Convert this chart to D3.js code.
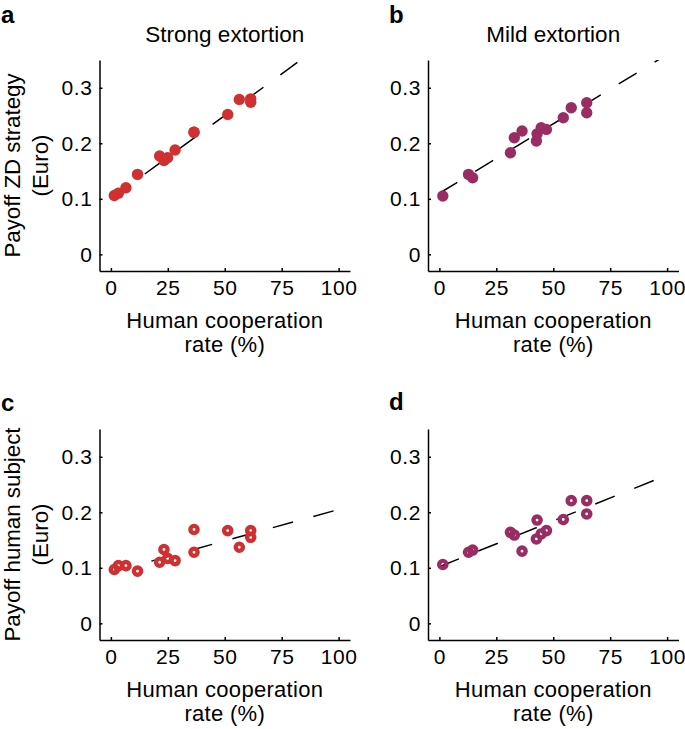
<!DOCTYPE html>
<html>
<head>
<meta charset="utf-8">
<script src="https://cdn.jsdelivr.net/npm/d3@7"></script>
<style>
  body { margin: 0; background: #fff; }
  svg { font-family: "Liberation Sans", Arial, Helvetica, sans-serif; }
</style>
</head>
<body>
<svg id="chart" width="685" height="729"></svg>
<script>
// tick labels
const xTicks = [0, 25, 50, 75, 100];
const yTicks = [0, 0.1, 0.2, 0.3];

// strong extortion: cooperation rate (%) and payoffs (Euro)
const strongCoop  = [1.5, 3.3, 6.6, 11.7, 21.4, 23.3, 24.9, 28.2, 36.5, 36.5, 51.3, 56.4, 61.4, 61.4];
const strongZD    = [0.106, 0.110, 0.120, 0.144, 0.177, 0.169, 0.174, 0.188, 0.220, 0.220, 0.252, 0.279, 0.280, 0.274];
const strongHuman = [0.097, 0.104, 0.104, 0.094, 0.110, 0.133, 0.117, 0.113, 0.128, 0.169, 0.167, 0.137, 0.167, 0.155];

// mild extortion
const mildCoop  = [1.5, 12.8, 14.6, 31.2, 32.9, 36.3, 42.6, 42.9, 44.7, 47.0, 54.4, 57.9, 64.7, 64.7];
const mildZD    = [0.105, 0.144, 0.138, 0.183, 0.210, 0.222, 0.204, 0.217, 0.228, 0.225, 0.246, 0.264, 0.273, 0.255];
const mildHuman = [0.106, 0.128, 0.132, 0.164, 0.159, 0.130, 0.152, 0.186, 0.161, 0.167, 0.187, 0.221, 0.221, 0.197];

// fitted lines, value at x = 0 and x = 100
const fitX = [0, 100];
const strongZDFit    = [0.100, 0.400];
const mildZDFit      = [0.110, 0.360];
const strongHumanFit = [0.092, 0.205];
const mildHumanFit   = [0.102, 0.267];

const red = "#d0302f";
const purple = "#9a2c64";

const W = 250.5, H = 211;

const panels = [
  { letter: "a", lx: 0, ly: 22.5, title: "Strong extortion", ylab: ["Payoff ZD strategy", "(Euro)"],
    xs: strongCoop, ys: strongZD, fit: strongZDFit, color: red, hollow: false, left: 99.5, top: 60 },
  { letter: "b", lx: 388, ly: 22.5, title: "Mild extortion", ylab: null,
    xs: mildCoop, ys: mildZD, fit: mildZDFit, color: purple, hollow: false, left: 428, top: 60 },
  { letter: "c", lx: 0, ly: 411, title: null, ylab: ["Payoff human subject", "(Euro)"],
    xs: strongCoop, ys: strongHuman, fit: strongHumanFit, color: red, hollow: true, left: 99.5, top: 429 },
  { letter: "d", lx: 388, ly: 410, title: null, ylab: null,
    xs: mildCoop, ys: mildHuman, fit: mildHumanFit, color: purple, hollow: true, left: 428, top: 429 }
];

const svg = d3.select("#chart");

panels.forEach(function(p, i) {
  const x = d3.scaleLinear().domain([-5, 105]).range([0, W]);
  const y = d3.scaleLinear().domain([-0.03, 0.35]).range([H, 0]);

  // panel letter
  svg.append("text")
    .attr("x", p.lx + 1).attr("y", p.ly)
    .attr("font-size", 24).attr("font-weight", "bold")
    .text(p.letter);

  const g = svg.append("g").attr("transform", `translate(${p.left},${p.top})`);

  if (p.title) {
    g.append("text")
      .attr("x", W / 2).attr("y", 41.5 - p.top)
      .attr("text-anchor", "middle").attr("font-size", 22.5)
      .text(p.title);
  }

  g.append("clipPath").attr("id", "clip" + i)
    .append("rect").attr("width", W).attr("height", H);

  // dashed fit line
  const line = d3.line().x(d => x(d[0])).y(d => y(d[1]));
  g.append("path")
    .datum(fitX.map((v, j) => [v, p.fit[j]]))
    .attr("clip-path", `url(#clip${i})`)
    .attr("d", line)
    .attr("fill", "none").attr("stroke", "#000")
    .attr("stroke-width", 1.5).attr("stroke-dasharray", "21,21");

  // points
  const pts = g.append("g").selectAll("circle")
    .data(p.xs.map((v, j) => [v, p.ys[j]]))
    .join("circle")
    .attr("cx", d => x(d[0])).attr("cy", d => y(d[1]));
  if (p.hollow) {
    pts.attr("r", 3.6).attr("fill", "none")
      .attr("stroke", p.color).attr("stroke-width", 4.4);
  } else {
    pts.attr("r", 5.7).attr("fill", p.color);
  }

  // axes, ticks point inwards
  const xAxis = g.append("g").attr("transform", `translate(0,${H})`)
    .call(d3.axisBottom(x).tickValues(xTicks).tickSizeInner(-3).tickSizeOuter(0).tickPadding(9.5));
  const yAxis = g.append("g")
    .call(d3.axisLeft(y).tickValues(yTicks).tickSizeInner(-3).tickSizeOuter(0).tickPadding(7)
      .tickFormat(d => d === 0 ? "0" : d3.format(".1f")(d)));

  [xAxis, yAxis].forEach(function(ax) {
    ax.attr("font-family", null).attr("font-size", null);
    ax.selectAll("path, line").attr("stroke", "#000").attr("stroke-width", 1.5);
    ax.selectAll("text").attr("font-size", 21).attr("letter-spacing", 0.6).attr("fill", "#000");
  });

  // x label, two lines
  g.append("text")
    .attr("x", W / 2).attr("y", H + 56.5)
    .attr("text-anchor", "middle").attr("font-size", 22)
    .attr("letter-spacing", 0.3)
    .text("Human cooperation");
  g.append("text")
    .attr("x", W / 2).attr("y", H + 81.2)
    .attr("text-anchor", "middle").attr("font-size", 22)
    .attr("letter-spacing", 0.3)
    .text("rate (%)");

  // y label
  if (p.ylab) {
    const cy = p.top + H / 2;
    [19.5, 48].forEach(function(bx, k) {
      svg.append("text")
        .attr("transform", `translate(${bx},${cy}) rotate(-90)`)
        .attr("text-anchor", "middle").attr("font-size", 22.3)
        .text(p.ylab[k]);
    });
  }
});
</script>
</body>
</html>
